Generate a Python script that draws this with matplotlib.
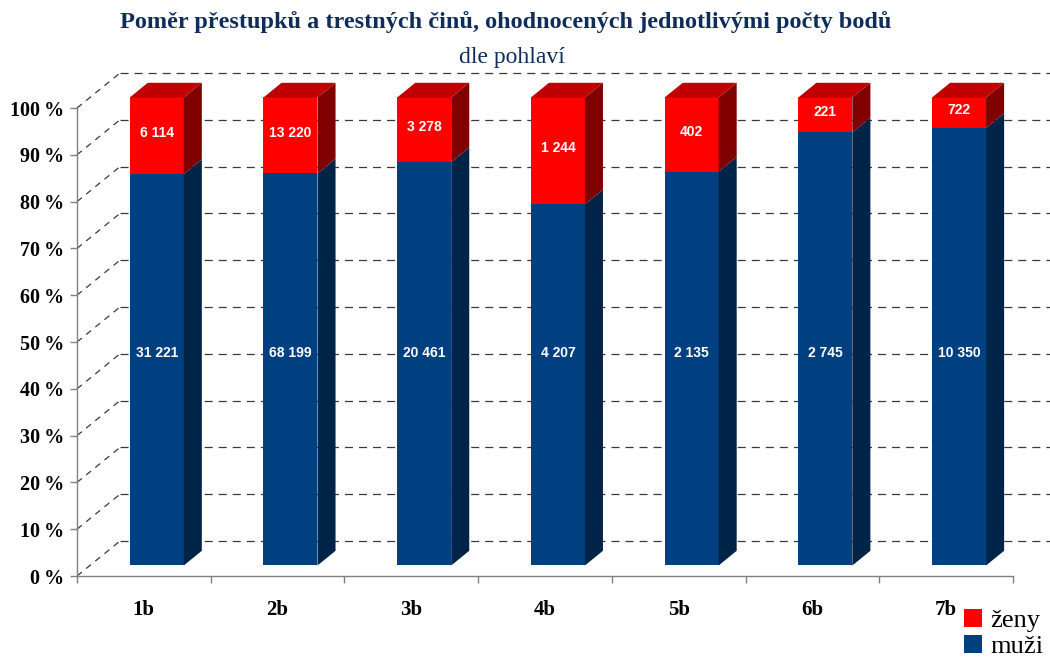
import matplotlib
matplotlib.use("Agg")
import matplotlib.pyplot as plt
from matplotlib.patches import Polygon, Patch

# data
categories = ["1b", "2b", "3b", "4b", "5b", "6b", "7b"]
muzi = [31221, 68199, 20461, 4207, 2135, 2745, 10350]
zeny = [6114, 13220, 3278, 1244, 402, 221, 722]
yticks = list(range(0, 101, 10))

title = "Poměr přestupků a trestných činů, ohodnocených jednotlivými počty bodů"
subtitle = "dle pohlaví"

# colours
navy = "#0f2d5a"
blue_front, blue_side = "#004080", "#002448"
red_front, red_top, red_side = "#ff0000", "#c00000", "#800000"

plt.rcParams["lines.scale_dashes"] = False

fig = plt.figure(figsize=(10.5, 6.57), dpi=100)
# front plane of the pseudo 3d box
ax = fig.add_axes([77 / 1050, 81 / 657, 936 / 1050, 468 / 657])
ax.set_xlim(0, len(categories))
ax.set_ylim(0, 100)

# depth offset of the back wall (in data units)
DX, DY = 0.3216, 7.48
f0, f1 = 0.30, 0.72   # bar front / back depth
bw = 0.404            # bar width

# back wall grid + left wall diagonals
for v in yticks:
    ax.plot([DX, len(categories) + DX], [v + DY, v + DY], color="#3a3a3a",
            lw=0.9, ls=(0, (5.8, 4.3)), clip_on=False, zorder=1)
    ax.plot([0, DX], [v, v + DY], color="#3a3a3a", lw=0.9,
            ls=(0, (4.5, 4.0)), clip_on=False, zorder=1)

for i, cat in enumerate(categories):
    tot = muzi[i] + zeny[i]
    m = muzi[i] / tot * 100
    ox, oy = f0 * DX, f0 * DY
    sdx, sdy = (f1 - f0) * DX, (f1 - f0) * DY
    x0 = i + 0.5 + ox - bw / 2
    x1 = x0 + bw
    y0 = oy
    parts = [
        # front faces
        ([(x0, y0), (x1, y0), (x1, y0 + m), (x0, y0 + m)], blue_front),
        ([(x0, y0 + m), (x1, y0 + m), (x1, y0 + 100), (x0, y0 + 100)], red_front),
        # side faces
        ([(x1, y0), (x1 + sdx, y0 + sdy), (x1 + sdx, y0 + m + sdy), (x1, y0 + m)], blue_side),
        ([(x1, y0 + m), (x1 + sdx, y0 + m + sdy), (x1 + sdx, y0 + 100 + sdy), (x1, y0 + 100)], red_side),
        # top
        ([(x0, y0 + 100), (x1, y0 + 100), (x1 + sdx, y0 + 100 + sdy), (x0 + sdx, y0 + 100 + sdy)], red_top),
    ]
    for pts, c in parts:
        ax.add_patch(Polygon(pts, closed=True, facecolor=c, edgecolor="none",
                             clip_on=False, zorder=3))
    xc = (x0 + x1) / 2
    ax.text(xc, 47.6, f"{muzi[i]:,}".replace(",", " "), color="white",
            fontsize=10, fontweight="bold", family="Liberation Sans",
            ha="center", va="center", zorder=4)
    ax.text(xc, y0 + (m + 100) / 2 + 0.6, f"{zeny[i]:,}".replace(",", " "),
            color="white", fontsize=10, fontweight="bold",
            family="Liberation Sans", ha="center", va="center", zorder=4)

# axes
for s in ["top", "right"]:
    ax.spines[s].set_visible(False)
for s in ["left", "bottom"]:
    ax.spines[s].set_color("#808080")
    ax.spines[s].set_linewidth(1.0)
ax.set_yticks(yticks)
ax.set_yticklabels([f"{v}\u2009%" for v in yticks], family="Liberation Serif",
                   fontweight="bold", fontsize=14.5)
ax.set_xticks(range(len(categories) + 1))
ax.set_xticklabels([])
ax.tick_params(axis="both", colors="#808080", length=5, width=1.0,
               direction="out", labelcolor="black")
ax.tick_params(axis="y", pad=4)
for i, cat in enumerate(categories):
    ax.text(i + 0.5, -7.3, cat, family="Liberation Serif", fontweight="bold",
            fontsize=15, ha="center", va="center")

# titles
fig.text(0.482, 0.966, title, family="Liberation Serif", fontweight="bold",
         fontsize=17.5, color=navy, ha="center", va="center")
fig.text(0.488, 0.912, subtitle, family="Liberation Serif", fontsize=17,
         color=navy, ha="center", va="center")

# legend
handles = [Patch(facecolor=red_front, edgecolor="none"),
           Patch(facecolor=blue_front, edgecolor="none")]
leg = fig.legend(handles, ["ženy", "muži"], loc="lower right",
                 bbox_to_anchor=(1.016, -0.038), frameon=False,
                 prop={"family": "Liberation Serif", "size": 19},
                 handlelength=0.7, handleheight=0.7, handletextpad=0.3,
                 labelspacing=0.1)

fig.savefig("out.png", dpi=100)
